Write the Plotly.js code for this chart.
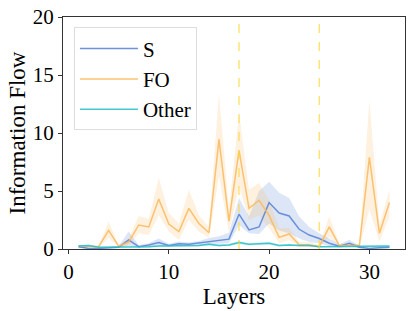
<!DOCTYPE html>
<html>
<head>
<meta charset="utf-8">
<script src="https://cdn.plot.ly/plotly-3.0.1.min.js"></script>
<style>html,body{margin:0;padding:0;background:#fff;}#chart{width:415px;height:311px;}</style>
</head>
<body>
<div id="chart"></div>
<script>
const layers = [1,2,3,4,5,6,7,8,9,10,11,12,13,14,15,16,17,18,19,20,21,22,23,24,25,26,27,28,29,30,31,32];
const sMean = [0.2,0.05,0.05,0.1,0.15,0.78,0.2,0.35,0.55,0.3,0.45,0.4,0.5,0.65,0.75,0.85,3.0,1.65,1.9,4.0,3.1,2.85,1.7,1.2,0.9,0.5,0.25,0.5,0.15,0.05,0.1,0.15];
const sLow  = [0.1,0.02,0.02,0.05,0.1,0.3,0.1,0.2,0.3,0.2,0.3,0.25,0.3,0.4,0.45,0.5,2.07,1.35,1.3,2.2,1.6,1.35,0.9,0.6,0.5,0.25,0.1,0.25,0.05,0.0,0.02,0.05];
const sHigh = [0.3,0.1,0.1,0.15,0.25,1.5,0.35,0.5,0.9,0.45,0.65,0.55,0.7,0.95,1.1,1.4,4.4,2.8,5.0,5.8,4.85,4.4,2.8,1.9,1.35,0.9,0.4,0.8,0.3,0.1,0.2,0.25];
const foMean = [0.25,0.25,0.2,1.6,0.25,0.6,2.07,1.9,4.3,2.15,1.5,3.5,2.2,1.4,9.45,2.4,8.5,3.5,4.2,2.9,1.0,1.3,0.37,0.37,0.2,1.9,0.3,0.3,0.3,7.9,1.35,4.0];
const foLow  = [0.15,0.15,0.1,0.95,0.15,0.3,1.35,1.2,2.9,1.5,0.78,2.5,1.5,0.95,6.3,1.4,5.4,2.5,2.9,1.8,0.5,0.78,0.2,0.2,0.1,1.06,0.15,0.15,0.15,3.4,0.63,2.8];
const foHigh = [0.35,0.35,0.3,2.35,0.35,0.9,2.85,2.6,6.15,3.1,2.2,5.1,2.9,1.9,13.4,3.4,11.7,5.1,5.7,4.2,1.8,1.8,0.6,0.6,0.35,2.8,0.45,0.45,0.45,12.8,2.07,5.1];
const otMean = [0.25,0.3,0.15,0.15,0.15,0.2,0.2,0.2,0.25,0.25,0.3,0.3,0.3,0.4,0.3,0.35,0.55,0.4,0.45,0.5,0.3,0.35,0.3,0.3,0.2,0.2,0.2,0.2,0.25,0.25,0.25,0.25];
const otLow  = [0.18,0.22,0.1,0.1,0.1,0.14,0.14,0.14,0.18,0.18,0.22,0.22,0.22,0.3,0.22,0.25,0.42,0.3,0.34,0.38,0.22,0.26,0.22,0.22,0.14,0.14,0.14,0.14,0.18,0.18,0.18,0.18];
const otHigh = [0.32,0.38,0.2,0.2,0.2,0.26,0.26,0.26,0.32,0.32,0.38,0.38,0.38,0.5,0.38,0.45,0.7,0.5,0.56,0.62,0.38,0.44,0.38,0.38,0.26,0.26,0.26,0.26,0.32,0.32,0.32,0.32];
const seriesNames = ["S","FO","Other"];
const vLines = [17, 25];

const lineCols = ["rgba(85,128,212,0.85)","rgba(250,185,90,0.85)","rgba(35,190,200,0.85)"];
const bandCols = ["rgba(100,140,215,0.22)","rgba(250,185,95,0.2)","rgba(40,190,200,0.2)"];
const means = [sMean, foMean, otMean], lows = [sLow, foLow, otLow], highs = [sHigh, foHigh, otHigh];

const traces = [];
for (let i = 0; i < 3; i++) {
  traces.push({x: layers, y: lows[i], mode: "lines", line: {width: 0, color: bandCols[i]}, showlegend: false, hoverinfo: "skip"});
  traces.push({x: layers, y: highs[i], mode: "lines", fill: "tonexty", fillcolor: bandCols[i], line: {width: 0, color: bandCols[i]}, showlegend: false, hoverinfo: "skip"});
}
for (let i = 0; i < 3; i++) {
  traces.push({x: layers, y: means[i], mode: "lines", name: seriesNames[i], line: {width: 1.5, color: lineCols[i]}});
}

const font = "'Liberation Serif', serif";
const layout = {
  width: 415, height: 311,
  margin: {l: 63, r: 10, t: 17, b: 61.5},
  paper_bgcolor: "#fff", plot_bgcolor: "#fff",
  font: {family: font, size: 21, color: "#000"},
  xaxis: {
    range: [-0.55, 33.55], tickvals: [0,10,20,30], ticks: "outside", ticklen: 4, tickwidth: 1, tickcolor: "#333",
    showgrid: false, zeroline: false, showline: true, linecolor: "#333", linewidth: 1, mirror: true,
    tickfont: {family: font, size: 21, color: "#000"}, title: {text: "Layers", font: {family: font, size: 23, color: "#000"}, standoff: 0}
  },
  yaxis: {
    range: [0, 20], tickvals: [0,5,10,15,20], ticks: "outside", ticklen: 4, tickwidth: 1, tickcolor: "#333",
    showgrid: false, zeroline: false, showline: true, linecolor: "#333", linewidth: 1, mirror: true,
    tickfont: {family: font, size: 21, color: "#000"}, title: {text: "Information Flow", font: {family: font, size: 23, color: "#000"}, standoff: 0}
  },
  legend: {x: 0.032, y: 0.955, xanchor: "left", yanchor: "top", bgcolor: "rgba(255,255,255,0.9)",
    bordercolor: "#ddd", borderwidth: 1, font: {family: font, size: 21, color: "#000"}, itemwidth: 58, tracegroupgap: 0,
    traceorder: "normal"},
  shapes: vLines.map(v => ({type: "line", xref: "x", yref: "paper", x0: v, x1: v, y0: 0, y1: 1,
    line: {color: "rgba(255,215,60,0.8)", width: 1.3, dash: "dash"}})),
  showlegend: true
};
Plotly.newPlot("chart", traces, layout, {staticPlot: true, displayModeBar: false});
</script>
</body>
</html>
